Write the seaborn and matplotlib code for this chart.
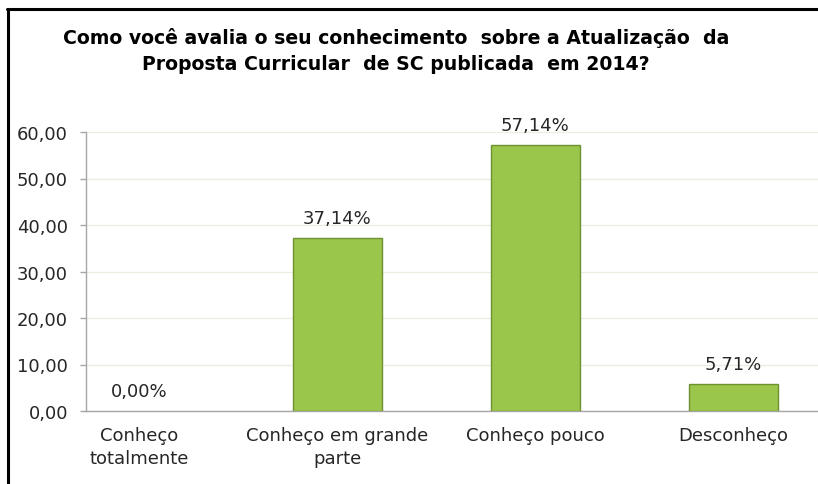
import matplotlib
matplotlib.use('Agg')
import matplotlib.pyplot as plt
from matplotlib.lines import Line2D
from matplotlib.ticker import FuncFormatter, FixedLocator
import seaborn as sns
import pandas as pd

# data
categorias = ['Conheço\ntotalmente', 'Conheço em grande\nparte', 'Conheço pouco', 'Desconheço']
percentuais = [0.00, 37.14, 57.14, 5.71]
yticks = [0, 10, 20, 30, 40, 50, 60]
titulo = 'Como você avalia o seu conhecimento  sobre a Atualização  da\nProposta Curricular  de SC publicada  em 2014?'

sns.set_style('white')
plt.rcParams['font.family'] = ['DejaVu Sans']

df = pd.DataFrame({'cat': categorias, 'pct': percentuais})

W, H = 818, 485
fig = plt.figure(figsize=(W / 100, H / 100), dpi=100)
ax = fig.add_axes([86 / W, 1 - 412 / H, (W - 86) / W, (412 - 133) / H])

sns.barplot(data=df, x='cat', y='pct', ax=ax, color='#9BC64C', saturation=1,
            width=0.45, edgecolor='#6F9230', linewidth=1.0, zorder=3)
# a bar of height zero shows no outline in the original
for bar, v in zip(ax.patches, percentuais):
    if v == 0:
        bar.set_linewidth(0)

ax.set_ylim(0, 60)
ax.set_xlim(-0.268, 3.429)
ax.set_xlabel('')
ax.set_ylabel('')

ax.yaxis.set_major_locator(FixedLocator(yticks))
ax.yaxis.set_major_formatter(FuncFormatter(lambda v, p: f'{v:.2f}'.replace('.', ',')))
ax.yaxis.grid(True, color='#ECECE2', lw=1.0, zorder=0)
ax.xaxis.grid(False)

ax.set_xticks(range(len(categorias)))
ax.set_xticklabels(categorias, fontsize=13, color='#262626', linespacing=1.35)
ax.set_xticks([0.5, 1.5, 2.5], minor=True)
ax.tick_params(axis='x', which='major', length=0, pad=11)
ax.tick_params(axis='x', which='minor', length=4, color='#A6A6A6', width=1)
ax.tick_params(axis='y', length=4, color='#A6A6A6', width=1, pad=9,
               labelsize=13, labelcolor='#262626', left=True)

for s in ['top', 'right']:
    ax.spines[s].set_visible(False)
for s in ['left', 'bottom']:
    ax.spines[s].set_color('#A6A6A6')
    ax.spines[s].set_linewidth(1.0)

rotulos = [f'{v:.2f}%'.replace('.', ',') for v in percentuais]
ax.bar_label(ax.containers[0], labels=rotulos, padding=8, fontsize=13, color='#262626')

fig.text(396 / W, 1 - 28 / H, titulo, ha='center', va='top', fontsize=13.6,
         fontweight='bold', color='black', linespacing=1.5)

# black frame of the original figure, cropped on the right and bottom
x0, y0 = 7.5 / W, 1 - 9.5 / H
fig.lines.append(Line2D([x0, x0], [0, y0], transform=fig.transFigure, color='black', lw=2.2))
fig.lines.append(Line2D([x0 - 0.001, 1], [y0, y0], transform=fig.transFigure, color='black', lw=2.2))

fig.savefig('out.png', dpi=100)
